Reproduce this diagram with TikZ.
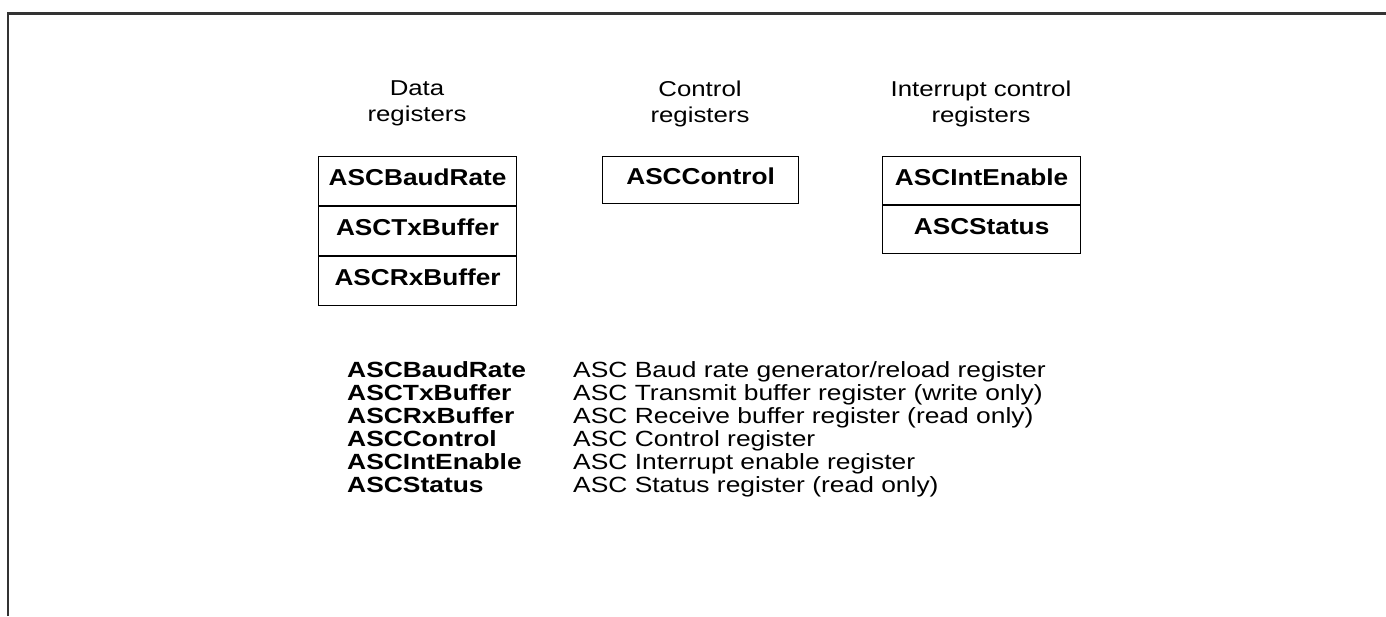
\documentclass[tikz,border=0pt]{standalone}
\usepackage{fontspec}
\setmainfont{Liberation Sans}[FakeStretch=1.2]
\newfontfamily\boxfont{Liberation Sans}[FakeStretch=1.14]
\begin{document}
\begin{tikzpicture}[x=1pt,y=-1pt,
  txt/.style={font=\fontsize{22}{26}\selectfont, inner sep=0},
  head/.style={font=\fontsize{21.5}{26}\selectfont, inner sep=0, align=center, anchor=north},
  regbox/.style={draw, line width=1.2pt, anchor=north west, inner sep=0,
    minimum width=198pt, minimum height=48.7pt,
    text height=16.6pt, text depth=7pt,
    font=\boxfont\bfseries\fontsize{23}{26}\selectfont},
  lname/.style={txt, font=\bfseries\fontsize{22}{26}\selectfont, anchor=base west},
  ldesc/.style={txt, anchor=base west}]
\useasboundingbox (0,0) rectangle (1386,616);
\draw[line width=2.2pt, black!80] (8.3,616) |- (1386,13.5);

% headers
\node[head] (hdata) at (417,81) {Data\\registers};
\node[head] (hctrl) at (700,81) {Control\\registers};
\node[head] (hint)  at (981,81) {Interrupt control\\registers};

% data registers
\node[regbox] (baud) at (318,156) {ASCBaudRate};
\node[regbox] (tx) at (baud.south west) {ASCTxBuffer};
\node[regbox] (rx) at (tx.south west) {ASCRxBuffer};

% control registers
\node[regbox, minimum width=196pt, minimum height=47pt] (ctrl) at (602,156) {ASCControl};

% interrupt control registers
\node[regbox, minimum height=47.5pt] (inten) at (882,156) {ASCIntEnable};
\node[regbox, minimum height=48.5pt] (stat) at (inten.south west) {ASCStatus};

% legend
\foreach \i/\n/\d in {0/ASCBaudRate/ASC Baud rate generator\slash reload register,
                      1/ASCTxBuffer/ASC Transmit buffer register (write only),
                      2/ASCRxBuffer/ASC Receive buffer register (read only),
                      3/ASCControl/ASC Control register,
                      4/ASCIntEnable/ASC Interrupt enable register,
                      5/ASCStatus/ASC Status register (read only)}{
  \node[lname] (n\i) at (347,377+23*\i) {\n};
  \node[ldesc] (d\i) at (573,377+23*\i) {\d};
}
\end{tikzpicture}
\end{document}
